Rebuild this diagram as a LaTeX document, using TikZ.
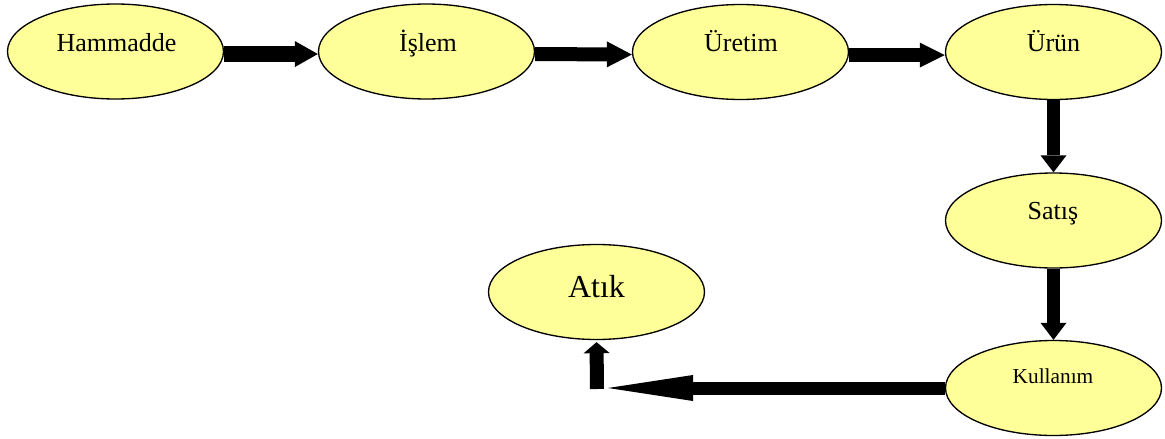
\documentclass[tikz,border=0pt]{standalone}
\usepackage{fontspec}
\setmainfont{Liberation Serif}
\usetikzlibrary{arrows.meta,shapes.geometric}
\definecolor{blobfill}{HTML}{FFFF99}
\begin{document}
\begin{tikzpicture}[x=0.75pt,y=-0.75pt,
  blob/.style={ellipse, draw=black, line width=1pt, fill=blobfill,
    minimum width=162pt, minimum height=71.25pt, inner sep=0pt},
  lbl/.style={anchor=base, inner sep=0pt, font=\fontsize{19.5}{23}\selectfont},
  flow/.style n args={3}{draw=black, line width=#1,
    -{Triangle[length=#2, width=#3, line width=0pt]}}]
  \useasboundingbox (0,0) rectangle (1165,439);

  % process stages
  \node[blob] (ham) at (115.5,51.5) {};
  \node[blob] (isl) at (426.5,51.5) {};
  \node[blob] (ure) at (740.5,52) {};
  \node[blob] (urn) at (1053.5,52) {};
  \node[blob] (sat) at (1053.5,220.5) {};
  \node[blob] (kul) at (1053.5,388) {};
  \node[blob] (atk) at (596.5,292) {};

  % stage captions
  \node[lbl] (tham) at (116.5,51) {Hammadde};
  \node[lbl] (tisl) at (428,51) {İşlem};
  \node[lbl] (ture) at (741,51) {Üretim};
  \node[lbl] (turn) at (1053.5,51) {Ürün};
  \node[lbl] (tsat) at (1053,219) {Satış};
  \node[lbl, font=\fontsize{16}{19}\selectfont] (tkul) at (1053,383) {Kullanım};
  \node[lbl, font=\fontsize{24}{28}\selectfont] (tatk) at (596.5,297) {Atık};

  % free ends of the return path
  \coordinate (tipend) at (608,388);
  \coordinate (upfoot) at (597,389);

  % block arrows
  \draw[flow={12pt}{17.25pt}{19.5pt}] ([yshift=-1.9pt]ham.east) -- ([yshift=-1.9pt]isl.west);
  \draw[flow={10.5pt}{18.75pt}{19.5pt}] ([yshift=-1.9pt]isl.east) -- ([yshift=-1.9pt]ure.west);
  \draw[flow={10.5pt}{18.75pt}{18.75pt}] ([yshift=-2.3pt]ure.east) -- ([yshift=-2.3pt]urn.west);
  \draw[flow={9.75pt}{12.75pt}{19.5pt}] (urn.south) -- (sat.north);
  \draw[flow={9.75pt}{12.75pt}{19.5pt}] (sat.south) -- (kul.north);
  \draw[flow={9.75pt}{63.75pt}{19.5pt}] (kul.west) -- (tipend);
  \draw[flow={10.5pt}{8.25pt}{19.5pt}, shorten >=1.5pt] (upfoot) -- (atk.south);
\end{tikzpicture}
\end{document}
